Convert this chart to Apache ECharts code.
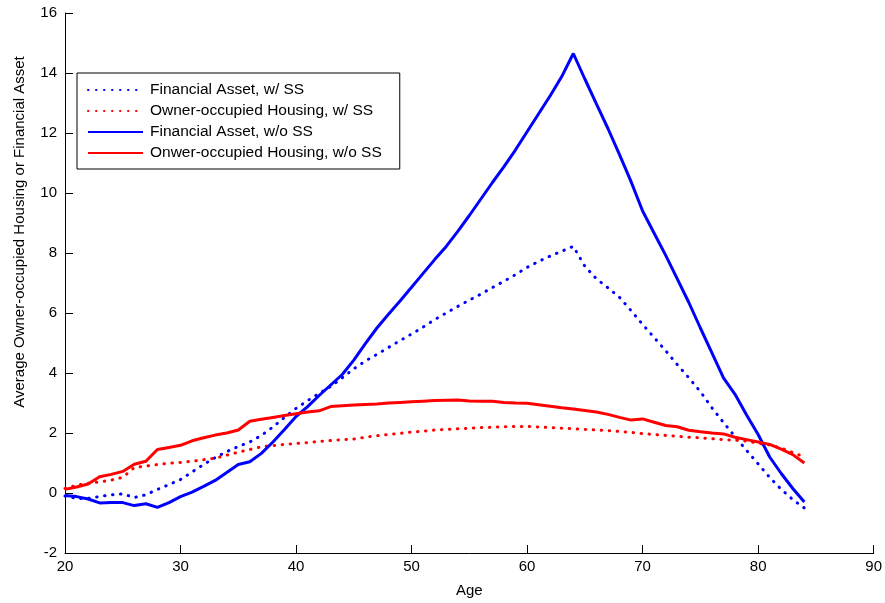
<html>
<head>
<meta charset="UTF-8">
<title>Average holdings by age</title>
<script src="https://cdn.jsdelivr.net/npm/echarts@6/dist/echarts.min.js"></script>
<style>
  html, body { margin: 0; padding: 0; background: #fff; }
  #main { width: 885px; height: 603px; }
</style>
</head>
<body>
<div id="main"></div>
<script>
// ages 20..84
var ages = [20,21,22,23,24,25,26,27,28,29,30,31,32,33,34,35,36,37,38,39,40,41,42,43,44,45,46,47,48,49,50,51,52,53,54,55,56,57,58,59,60,61,62,63,64,65,66,67,68,69,70,71,72,73,74,75,76,77,78,79,80,81,82,83,84];

var finWithSS = [-0.10,-0.18,-0.18,-0.12,-0.06,-0.03,-0.15,-0.06,0.12,0.28,0.45,0.70,0.95,1.18,1.38,1.55,1.70,1.92,2.20,2.52,2.82,3.08,3.32,3.55,3.84,4.14,4.40,4.62,4.85,5.08,5.30,5.53,5.78,6.00,6.22,6.43,6.63,6.85,7.06,7.28,7.52,7.72,7.90,8.06,8.22,7.56,7.14,6.84,6.52,6.08,5.62,5.18,4.74,4.28,3.84,3.38,2.84,2.35,1.88,1.42,0.97,0.52,0.12,-0.22,-0.50];

var housingWithSS = [0.15,0.26,0.32,0.37,0.43,0.52,0.85,0.90,0.95,0.99,1.02,1.06,1.11,1.16,1.26,1.36,1.45,1.54,1.58,1.62,1.65,1.68,1.72,1.75,1.78,1.80,1.86,1.91,1.95,1.99,2.03,2.06,2.10,2.12,2.14,2.16,2.18,2.19,2.21,2.22,2.22,2.20,2.18,2.16,2.14,2.12,2.10,2.08,2.05,2.02,1.98,1.95,1.92,1.89,1.86,1.84,1.81,1.78,1.76,1.73,1.66,1.60,1.50,1.35,1.20];

var finNoSS = [-0.08,-0.12,-0.20,-0.33,-0.32,-0.32,-0.42,-0.36,-0.48,-0.32,-0.12,0.03,0.22,0.42,0.68,0.95,1.04,1.32,1.70,2.12,2.55,2.88,3.25,3.60,3.95,4.43,4.98,5.50,5.96,6.40,6.86,7.32,7.78,8.22,8.72,9.25,9.80,10.35,10.88,11.44,12.04,12.64,13.24,13.88,14.65,13.80,12.97,12.15,11.28,10.38,9.40,8.66,7.92,7.14,6.35,5.50,4.67,3.84,3.29,2.60,1.95,1.20,0.65,0.15,-0.30];

var housingNoSS = [0.12,0.20,0.30,0.54,0.62,0.72,0.96,1.06,1.45,1.52,1.59,1.74,1.84,1.93,2.00,2.10,2.39,2.46,2.52,2.58,2.64,2.70,2.74,2.88,2.91,2.93,2.95,2.97,3.00,3.02,3.04,3.06,3.08,3.09,3.10,3.07,3.06,3.06,3.02,3.00,2.99,2.94,2.89,2.84,2.80,2.75,2.70,2.62,2.52,2.43,2.47,2.36,2.25,2.21,2.09,2.04,2.00,1.97,1.86,1.78,1.70,1.62,1.46,1.28,1.00];

var seriesNames = ['Financial Asset, w/ SS', 'Owner-occupied Housing, w/ SS', 'Financial Asset, w/o SS', 'Onwer-occupied Housing, w/o SS'];

function pairs(vals) {
  var out = [];
  for (var i = 0; i < ages.length; i++) {
    out.push([ages[i], vals[i]]);
  }
  return out;
}

var dotted = { width: 3, type: [0.5, 7.5], cap: 'round' };
var solid = { width: 3, type: 'solid' };
var font = 'Liberation Sans, Arial, Helvetica, sans-serif';

var chart = echarts.init(document.getElementById('main'), null, { renderer: 'canvas' });

var option = {
  animation: false,
  backgroundColor: '#fff',
  textStyle: { fontFamily: font, color: '#000' },
  grid: { left: 65, right: 11, top: 13, bottom: 46, containLabel: false },
  legend: {
    orient: 'vertical',
    left: 77,
    top: 73,
    padding: [9, 18, 8, 10],
    itemWidth: 55,
    itemHeight: 14,
    itemGap: 5,
    borderColor: '#000',
    borderWidth: 1,
    backgroundColor: '#fff',
    itemStyle: { opacity: 0 },
    textStyle: { fontFamily: font, fontSize: 15.5, lineHeight: 16, color: '#000', padding: [0, 0, 0, 2] },
    data: seriesNames
  },
  xAxis: {
    type: 'value',
    min: 20,
    max: 90,
    interval: 10,
    name: 'Age',
    nameLocation: 'middle',
    nameGap: 30,
    nameTextStyle: { fontFamily: font, fontSize: 15, color: '#000' },
    axisLine: { onZero: false, lineStyle: { color: '#000', width: 1 } },
    axisTick: { inside: true, length: 8, lineStyle: { color: '#000' } },
    axisLabel: { fontFamily: font, fontSize: 15, color: '#000', margin: 6 },
    splitLine: { show: false }
  },
  yAxis: {
    type: 'value',
    min: -2,
    max: 16,
    interval: 2,
    axisLine: { show: true, onZero: false, lineStyle: { color: '#000', width: 1 } },
    axisTick: { show: true, inside: true, length: 8, lineStyle: { color: '#000' } },
    axisLabel: { fontFamily: font, fontSize: 15, color: '#000', margin: 8 },
    splitLine: { show: false }
  },
  graphic: [{
    type: 'text',
    x: 20,
    y: 232,
    rotation: Math.PI / 2,
    style: {
      text: 'Average Owner-occupied Housing or Financial Asset',
      font: '15px ' + font,
      fill: '#000',
      textAlign: 'center',
      textVerticalAlign: 'middle'
    }
  }],
  series: [
    {
      name: seriesNames[0], type: 'line', data: pairs(finWithSS),
      showSymbol: false, symbol: 'none', color: '#0000ff', lineStyle: dotted, z: 2
    },
    {
      name: seriesNames[1], type: 'line', data: pairs(housingWithSS),
      showSymbol: false, symbol: 'none', color: '#ff0000', lineStyle: dotted, z: 2
    },
    {
      name: seriesNames[2], type: 'line', data: pairs(finNoSS),
      showSymbol: false, symbol: 'none', color: '#0000ff', lineStyle: solid, z: 3
    },
    {
      name: seriesNames[3], type: 'line', data: pairs(housingNoSS),
      showSymbol: false, symbol: 'none', color: '#ff0000', lineStyle: solid, z: 3
    }
  ]
};

chart.setOption(option);
</script>
</body>
</html>
